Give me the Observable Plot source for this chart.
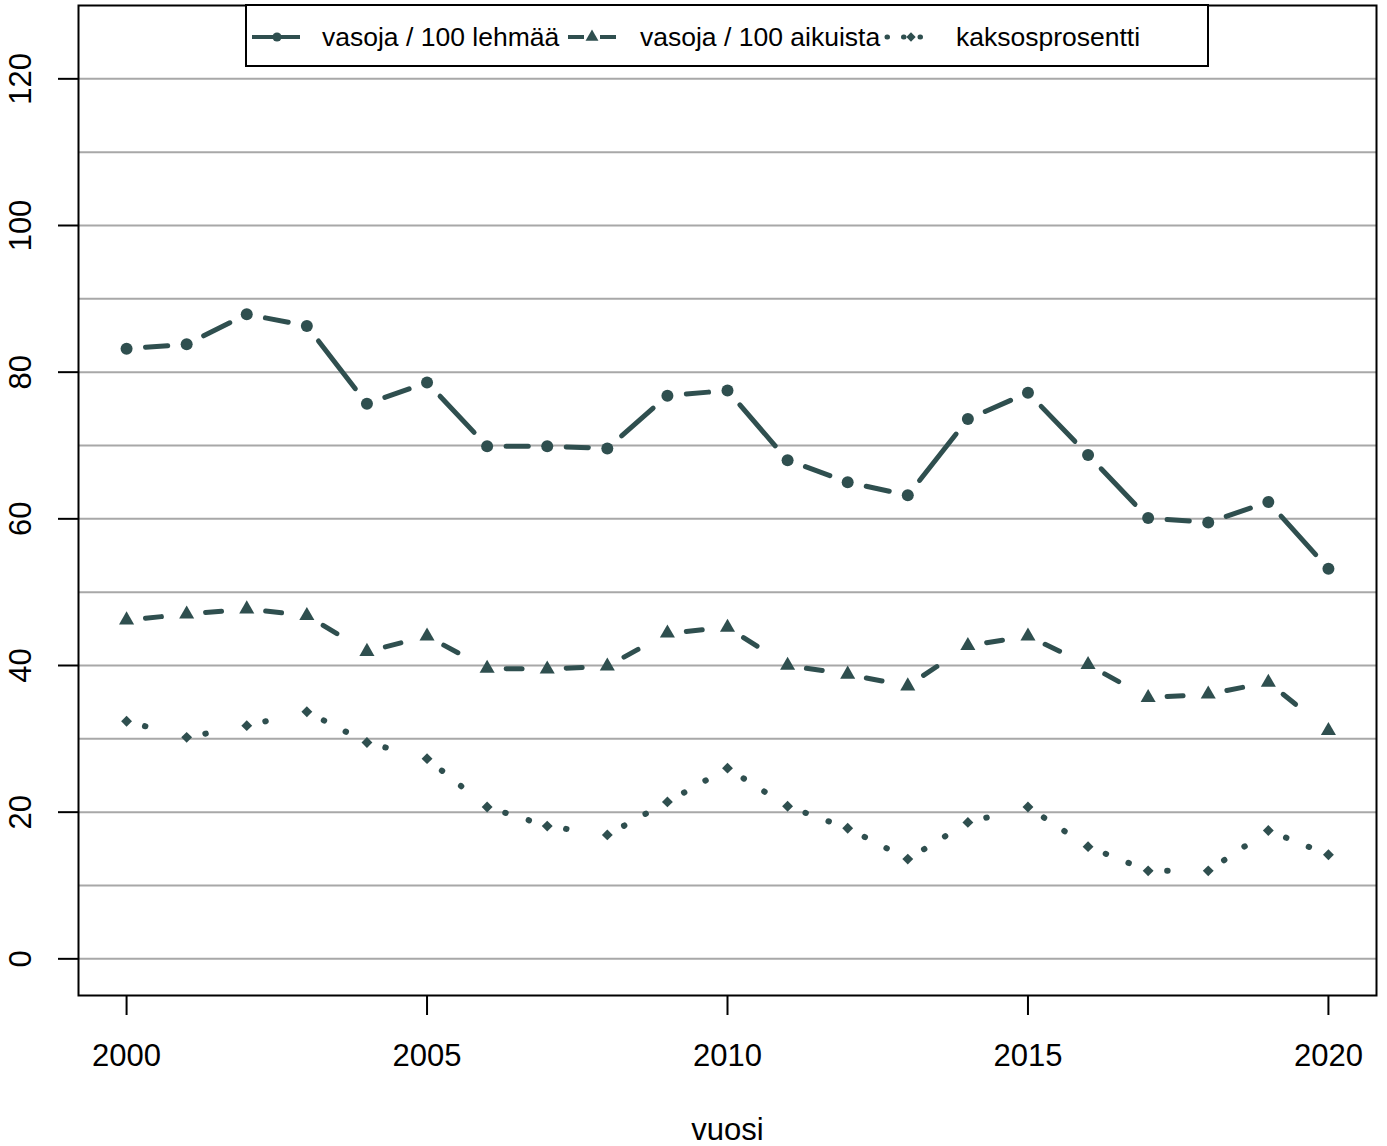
<!DOCTYPE html>
<html>
<head>
<meta charset="utf-8">
<script src="https://cdn.jsdelivr.net/npm/d3@7"></script>
<script src="https://cdn.jsdelivr.net/npm/@observablehq/plot@0.6"></script>
<style>
  html, body { margin: 0; padding: 0; background: #fff; }
  #wrap { position: relative; width: 1387px; height: 1146px; font-family: "Liberation Sans", Arial, Helvetica, sans-serif; }
  #legend { position: absolute; left: 0; top: 0; }
</style>
</head>
<body>
<div id="wrap"></div>
<script>
const years = d3.range(2000, 2021);
const lehmaa = [83.2, 83.8, 87.9, 86.3, 75.7, 78.6, 69.9, 69.9, 69.6, 76.8, 77.5, 68.0, 65.0, 63.2, 73.6, 77.2, 68.7, 60.1, 59.5, 62.3, 53.2];
const aikuista = [46.2, 47.0, 47.7, 46.8, 41.9, 44.0, 39.6, 39.5, 39.9, 44.4, 45.2, 40.0, 38.8, 37.2, 42.7, 44.0, 40.1, 35.6, 36.1, 37.7, 31.1];
const kaksos = [32.4, 30.2, 31.8, 33.7, 29.5, 27.3, 20.7, 18.1, 16.9, 21.4, 26.0, 20.8, 17.8, 13.6, 18.6, 20.7, 15.3, 12.0, 12.0, 17.5, 14.2];
const seriesNames = ["vasoja / 100 lehmää", "vasoja / 100 aikuista", "kaksosprosentti"];
const xTicks = [2000, 2005, 2010, 2015, 2020];
const yTicks = [0, 20, 40, 60, 80, 100, 120];
const yGrid = d3.range(0, 121, 10);

const col = "#2F4F4F";
const FONT = "'Liberation Sans', Arial, Helvetica, sans-serif";

// custom curve: straight segment shortened at both ends (R type = "b")
function gapCurve(inset) {
  return (context) => {
    let pts = [];
    return {
      areaStart() {}, areaEnd() {},
      lineStart() { pts = []; },
      lineEnd() {
        if (pts.length >= 2) {
          const a = pts[0], b = pts[pts.length - 1];
          const dx = b[0] - a[0], dy = b[1] - a[1], L = Math.hypot(dx, dy);
          if (L > 2 * inset) {
            const ux = dx / L, uy = dy / L;
            context.moveTo(a[0] + ux * inset, a[1] + uy * inset);
            context.lineTo(b[0] - ux * inset, b[1] - uy * inset);
          }
        }
      },
      point(x, y) { pts.push([+x, +y]); }
    };
  };
}

function segs(vals) {
  return years.slice(1).map((yr, i) => ({x1: years[i], y1: vals[i], x2: yr, y2: vals[i + 1]}));
}
function pts(vals) { return years.map((yr, i) => ({x: yr, y: vals[i]})); }

const linkOpts = (dash, w) => ({
  x1: "x1", y1: "y1", x2: "x2", y2: "y2",
  curve: gapCurve(19), stroke: col, strokeWidth: w,
  strokeDasharray: dash, strokeLinecap: "round"
});

const chart = Plot.plot({
  width: 1387,
  height: 1146,
  marginLeft: 78,
  marginRight: 11,
  marginTop: 5,
  marginBottom: 151,
  style: {fontFamily: FONT, background: "#fff", color: "#000", overflow: "visible"},
  x: {domain: [1999.2, 2020.8], axis: null},
  y: {domain: [-5, 130], axis: null},
  marks: [
    Plot.ruleY(yGrid, {stroke: "#a8a8a8", strokeWidth: 2}),
    Plot.link(segs(lehmaa), linkOpts("75,20", 5)),
    Plot.link(segs(aikuista), linkOpts("16,30", 5)),
    Plot.link(segs(kaksos), linkOpts("0.5,24", 6)),
    Plot.dot(pts(lehmaa), {x: "x", y: "y", symbol: "circle", r: 6, fill: col, stroke: "none"}),
    Plot.dot(pts(aikuista), {x: "x", y: "y", symbol: "triangle", r: 5.6, fill: col, stroke: "none"}),
    Plot.dot(pts(kaksos), {x: "x", y: "y", symbol: "diamond2", r: 4.9, fill: col, stroke: "none"}),
    Plot.frame({stroke: "#000", strokeWidth: 2}),
    Plot.axisX({ticks: xTicks, tickSize: 20, tickPadding: 28, tickFormat: d => String(d), fontSize: 31, strokeWidth: 2, label: null}),
    Plot.axisY({ticks: yTicks, tickSize: 20, tickFormat: () => "", strokeWidth: 2, label: null}),
    Plot.text(yTicks, {y: d => d, text: d => String(d), frameAnchor: "left", dx: -57, rotate: -90, fontSize: 31, textAnchor: "middle", fill: "#000"}),
    Plot.text(["vuosi"], {text: d => d, frameAnchor: "bottom", dy: 144, fontSize: 31, fill: "#000"})
  ]
});

const wrap = document.getElementById("wrap");
wrap.appendChild(chart);

// legend overlay (R-style horizontal legend box)
const lg = d3.select(wrap).append("svg")
  .attr("id", "legend")
  .attr("width", 1387).attr("height", 80)
  .style("font-family", FONT);
lg.append("rect").attr("x", 246).attr("y", 5).attr("width", 962).attr("height", 61)
  .attr("fill", "#fff").attr("stroke", "#000").attr("stroke-width", 2);

const items = [
  {x0: 252, x1: 300, pt: 277, tx: 322, dash: null, cap: "butt", w: 4, sym: d3.symbolCircle, size: Math.PI * 4.6 * 4.6},
  {x0: 568, x1: 616, pt: 592, tx: 640, dash: "16,16", cap: "butt", w: 4, sym: d3.symbolTriangle, size: Math.PI * 4.8 * 4.8},
  {x0: 887, x1: 921, pt: 911, tx: 956, dash: "0.5,16", cap: "round", w: 5, sym: d3.symbolDiamond2, size: Math.PI * 4.2 * 4.2}
];
const ly = 37;
items.forEach((it, i) => {
  const g = lg.append("g");
  g.append("path")
    .attr("d", `M${it.x0},${ly}L${it.x1},${ly}`)
    .attr("stroke", col).attr("stroke-width", it.w).attr("stroke-linecap", it.cap)
    .attr("fill", "none")
    .attr("stroke-dasharray", it.dash);
  g.append("path")
    .attr("d", d3.symbol(it.sym, it.size)())
    .attr("transform", `translate(${it.pt},${ly})`)
    .attr("fill", col);
  g.append("text").attr("x", it.tx).attr("y", ly).attr("dy", "0.35em")
    .attr("font-size", 26.5).attr("fill", "#000").text(seriesNames[i]);
});
</script>
</body>
</html>
